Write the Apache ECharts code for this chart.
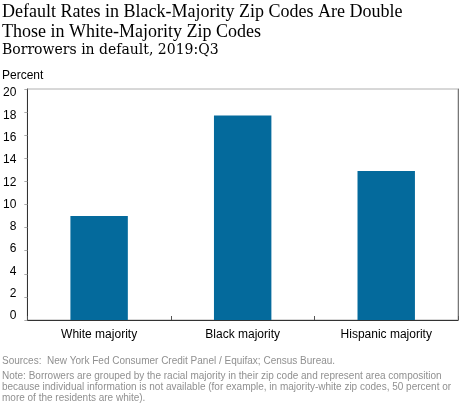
<!DOCTYPE html>
<html>
<head>
<meta charset="utf-8">
<script src="https://cdn.jsdelivr.net/npm/echarts@6/dist/echarts.min.js"></script>
<style>html,body{margin:0;padding:0;background:#fff;}#c{width:460px;height:406px;}</style>
</head>
<body>
<div id="c"></div>
<script>
const categories = ['White majority', 'Black majority', 'Hispanic majority'];
const defaultRates = [9.0, 17.7, 12.9];
const yTicks = { min: 0, max: 20, interval: 2 };

const titleText = 'Default Rates in Black-Majority Zip Codes Are Double\nThose in White-Majority Zip Codes';
const subtitleText = 'Borrowers in default, 2019:Q3';
const unitText = 'Percent';
const sourceText = 'Sources:  New York Fed Consumer Credit Panel / Equifax; Census Bureau.';
const noteText = 'Note: Borrowers are grouped by the racial majority in their zip code and represent area composition\nbecause individual information is not available (for example, in majority-white zip codes, 50 percent or\nmore of the residents are white).';

const sans = 'Liberation Sans, Arial, sans-serif';
// slight spread of y labels as in the reference
const yRich = {};
for (let v = yTicks.min; v <= yTicks.max; v += yTicks.interval) {
  const shift = (v - 10) * 0.4;
  yRich['v' + v] = {
    fontFamily: sans, fontSize: 12, color: '#000',
    padding: shift >= 0 ? [2 * shift, 0, 0, 0] : [0, 0, -2 * shift, 0]
  };
}

const chart = echarts.init(document.getElementById('c'), null, { renderer: 'canvas' });
chart.setOption({
  animation: false,
  backgroundColor: '#fff',
  title: [
    { text: titleText, left: 2, top: 2, padding: 0,
      textStyle: { fontFamily: 'Liberation Serif, serif', fontSize: 18, fontWeight: 'normal', color: '#000', lineHeight: 20 } },
    { text: subtitleText, left: 2, top: 42, padding: 0,
      textStyle: { fontFamily: 'DejaVu Serif, serif', fontSize: 14, fontWeight: 'normal', color: '#000', lineHeight: 16 } },
    { text: unitText, left: 2, top: 69, padding: 0,
      textStyle: { fontFamily: sans, fontSize: 12, fontWeight: 'normal', color: '#000', lineHeight: 14 } },
    { text: sourceText, left: 2, top: 355, padding: 0,
      textStyle: { fontFamily: sans, fontSize: 10, fontWeight: 'normal', color: '#909090', lineHeight: 12 } },
    { text: noteText, left: 2, top: 371, padding: 0,
      textStyle: { fontFamily: sans, fontSize: 10, fontWeight: 'normal', color: '#909090', lineHeight: 11 } }
  ],
  grid: { left: 25, right: 2, top: 89, bottom: 86, show: true, borderColor: '#b0b0b0', borderWidth: 1, containLabel: false },
  xAxis: {
    type: 'category', data: categories, boundaryGap: true,
    axisLine: { lineStyle: { color: '#333', width: 1 } },
    axisTick: { show: true, inside: true, length: 4, lineStyle: { color: '#555' } },
    axisLabel: { fontFamily: sans, fontSize: 12, color: '#000', margin: 9 }
  },
  yAxis: [
    {
      type: 'value', min: yTicks.min, max: yTicks.max, interval: yTicks.interval,
      axisLine: { show: true, lineStyle: { color: '#333', width: 1 } },
      axisTick: { show: true, inside: false, length: 3, lineStyle: { color: '#aaa' } },
      splitLine: { show: false },
      axisLabel: {
        margin: 11, rich: yRich,
        formatter: function (v) { return '{v' + v + '|' + v + '}'; }
      }
    },
    {
      type: 'value', position: 'right', min: yTicks.min, max: yTicks.max, interval: yTicks.interval,
      axisLine: { show: true, lineStyle: { color: '#777', width: 1 } },
      axisTick: { show: false }, axisLabel: { show: false }, splitLine: { show: false }
    }
  ],
  series: [{
    type: 'bar', data: defaultRates, barWidth: '40%', yAxisIndex: 0,
    itemStyle: { color: '#046a9c' }
  }]
});
</script>
</body>
</html>
